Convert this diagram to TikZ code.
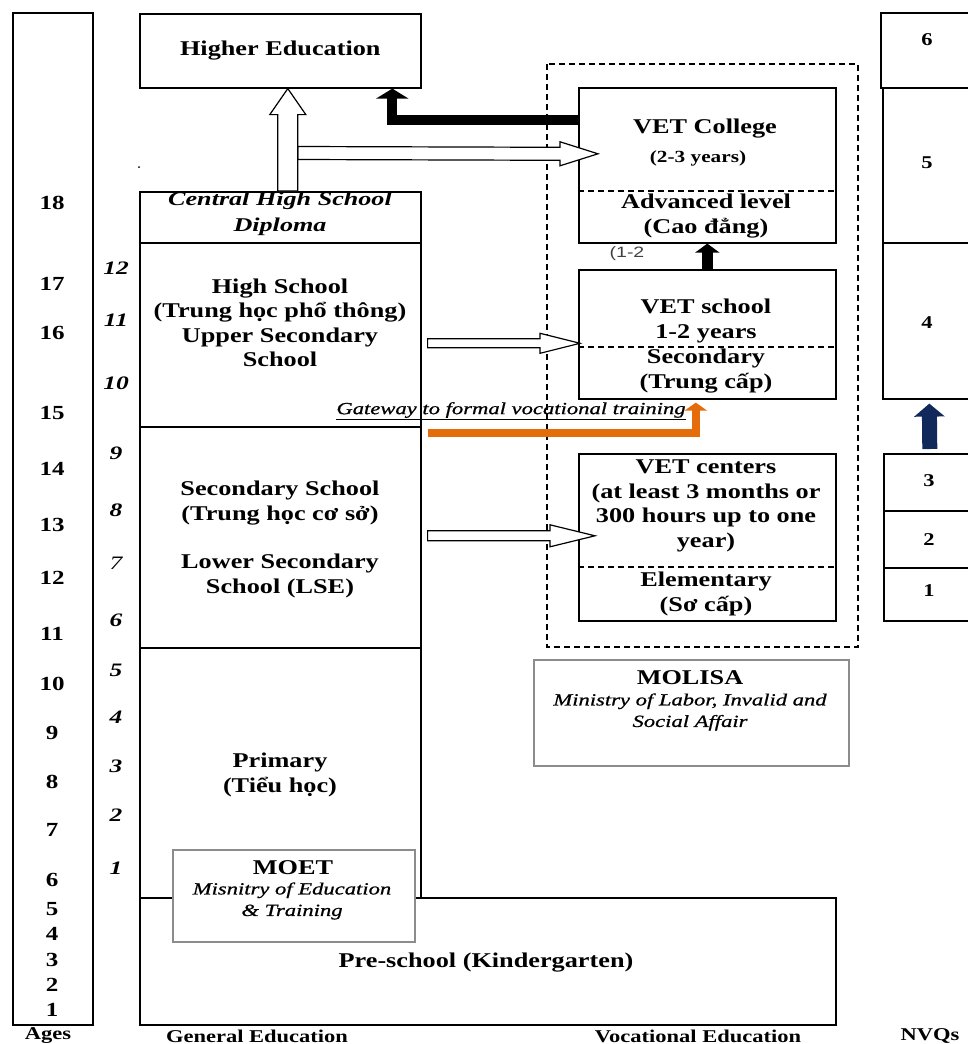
\documentclass[tikz,border=0pt]{standalone}
\usepackage{fontspec}
\setmainfont{Liberation Serif}[FakeStretch=1.25]
\newfontfamily\itserif{Liberation Serif}[FakeStretch=1.34]
\newfontfamily\itserifh{Liberation Serif}[FakeStretch=1.33, FakeBold=0.8]
\newfontfamily\sansnar{Liberation Sans}[FakeStretch=1.3]
\usetikzlibrary{arrows.meta,calc}
\definecolor{vetorange}{RGB}{228,108,10}
\definecolor{navyarrow}{RGB}{16,40,90}
\newcommand\fb{\fontsize{21}{24.5}\selectfont\bfseries}
\newcommand\fnum{\fontsize{20}{24}\selectfont\bfseries}
\newcommand\fnvq{\fontsize{18}{22}\selectfont\bfseries}
\newcommand\fgn{\itserif\fontsize{19}{23}\selectfont\bfseries\itshape}
\newcommand\fgnl{\itserif\fontsize{19}{23}\selectfont\itshape}
\newcommand\fitl{\itserifh\fontsize{17}{21.5}\selectfont\itshape}
\newcommand\fbi{\itserif\fontsize{19.5}{26}\selectfont\bfseries\itshape}
\newcommand\flab{\fontsize{18}{22}\selectfont\bfseries}
\newcommand\fsm{\fontsize{17}{20}\selectfont\bfseries}
\newcommand\fsans{\sansnar\fontsize{15}{18}\selectfont}
\newcommand\rbox[6][box]{\node[#1, minimum width={#5pt-#3pt}, minimum height={#6pt-#4pt}, anchor=north west] (#2) at (#3,#4) {};}
\newcommand\hollowR[5]{\draw[hollow] ($(#1)+(0,#3)$) -- ($(#2)+(-#5,#3)$) -- ($(#2)+(-#5,#4)$) -- (#2) -- ($(#2)+(-#5,-#4)$) -- ($(#2)+(-#5,-#3)$) -- ($(#1)+(0,-#3)$) -- cycle;}
\newcommand\hollowU[5]{\draw[hollow] ($(#1)+(-#3,0)$) -- ($(#2)+(-#3,#5)$) -- ($(#2)+(-#4,#5)$) -- (#2) -- ($(#2)+(#4,#5)$) -- ($(#2)+(#3,#5)$) -- ($(#1)+(#3,0)$) -- cycle;}
\tikzset{
  box/.style={draw, line width=1.6pt, inner sep=0pt},
  gbox/.style={draw=black!45, line width=1.5pt, fill=white, inner sep=0pt},
  dl/.style={line width=1.2pt, dash pattern=on 6pt off 4pt},
  hollow/.style={draw, line width=1.2pt, fill=white, line join=miter},
  txt/.style={inner sep=0pt, align=center, font=\fb},
  num/.style={inner sep=0pt, font=\fnum},
  gnum/.style={inner sep=0pt, font=\fgn},
  nvq/.style={inner sep=0pt, font=\fnvq},
  lab/.style={inner sep=0pt, font=\flab},
}
\begin{document}
\begin{tikzpicture}[x=1pt,y=-1pt]
\useasboundingbox (0,0) rectangle (968,1044);
\fill[white] (0,0) rectangle (968,1044);

% ages column
\rbox{ages}{12}{12}{92}{1024}
\foreach \n/\yy in {18/203,17/284,16/333,15/413,14/469,13/525,12/578,11/634,10/684,9/733,8/782,7/830,6/880,5/909,4/934,3/960,2/985,1/1010}
  \node[num] (age\n) at (52,\yy) {\n};
% grade numbers
\foreach \n/\yy in {12/268,11/320,10/383,9/453,8/510,6/620,5/670,4/717,3/766,2/815,1/868}
  \node[gnum] (gr\n) at (116,\yy) {\n};
\node[inner sep=0pt, font=\fgnl] (gr7) at (116,563) {7};

% general education boxes
\rbox{he}{139}{13}{420}{87}
\node[txt] (het) at (he.center) {Higher Education};
\rbox{dip}{139}{191}{420}{242}
\node[inner sep=0pt, align=center, font=\fbi] (dipt) at (280,214) {Central High School\\Diploma};
\rbox{hs}{139}{242}{420}{426}
\node[txt] (hst) at (280,323) {High School\\(Trung học phổ thông)\\Upper Secondary\\School};
\rbox{sec}{139}{426}{420}{647}
\node[txt] (sect1) at (280,503) {Secondary School\\(Trung học cơ sở)};
\node[txt] (sect2) at (280,576) {Lower Secondary\\School (LSE)};
\rbox{prim}{139}{647}{420}{897}
\node[txt] (primt) at (280,775) {Primary\\(Tiểu học)};
\rbox{pre}{139}{897}{835}{1024}
\node[txt] (pret) at (486,963) {Pre-school (Kindergarten)};
\rbox[gbox]{moet}{172}{849}{414}{941}
\node[inner sep=0pt, font=\fb] (moett) at (293,868) {MOET};
\node[inner sep=0pt, align=center, font=\fitl] (moeti) at (292,901) {Misnitry of Education\\\& Training};
\fill (139,167) circle (1pt);

% vocational boxes
\draw[dl] (547,64) rectangle (858,647);
\rbox{vc}{578}{87}{835}{242}
\draw[dl] (578,191) -- (835,191);
\node[txt] (vct1) at (705,129) {VET College};
\node[inner sep=0pt, font=\fsm] (vct2) at (698,158) {(2-3 years)};
\node[txt] (vct3) at (706,216) {Advanced level\\(Cao đẳng)};
\node[inner sep=0pt, font=\fsans, text=black!75] (ot) at (627,254) {(1-2};
\rbox{vs}{578}{269}{835}{398}
\draw[dl] (578,347) -- (835,347);
\node[txt] (vst1) at (706,321) {VET school\\1-2 years};
\node[txt] (vst2) at (706,371) {Secondary\\(Trung cấp)};
\rbox{vcen}{578}{453}{835}{620}
\draw[dl] (578,567) -- (835,567);
\node[txt] (vcent1) at (706,506) {VET centers\\(at least 3 months or\\300 hours up to one\\year)};
\node[txt] (vcent2) at (706,594) {Elementary\\(Sơ cấp)};
\rbox[gbox]{mol}{533}{659}{848}{765}
\node[inner sep=0pt, font=\fb] (molt) at (690,678) {MOLISA};
\node[inner sep=0pt, align=center, font=\fitl] (moli) at (690,712) {Ministry of Labor, Invalid and\\Social Affair};

% NVQ boxes
\rbox{n6}{880}{12}{975}{87}
\rbox{n5}{882}{87}{975}{242}
\rbox{n4}{882}{242}{975}{398}
\rbox{n3}{883}{453}{975}{510}
\rbox{n2}{883}{510}{975}{567}
\rbox{n1}{883}{567}{975}{620}
\node[nvq] (n6t) at (927,40) {6};
\node[nvq] (n5t) at (927,163) {5};
\node[nvq] (n4t) at (927,323) {4};
\node[nvq] (n3t) at (929,481) {3};
\node[nvq] (n2t) at (929,540) {2};
\node[nvq] (n1t) at (929,591) {1};

% bottom labels
\node[lab] (labA) at (48,1036) {Ages};
\node[lab] (labG) at (257,1036) {General Education};
\node[lab] (labV) at (698,1036) {Vocational Education};
\node[lab] (labN) at (930,1036) {NVQs};

% connectors
\coordinate (ub) at ($(dip.north)+(7.5,0)$);
\coordinate (ut) at ($(he.south)+(7.5,0)$);
\coordinate (t1s) at ($(ub)+(10,-38)$);
\coordinate (t1e) at ($(vc.west)+(20,-11.5)$);
\hollowR{t1s}{t1e}{6.5}{12}{38}
\hollowU{ub}{ut}{10}{18}{26}
\coordinate (m1s) at ($(hs.east)+(6,8.5)$);
\coordinate (m1e) at ($(vs.west)+(2,9)$);
\hollowR{m1s}{m1e}{4.5}{10}{40}
\coordinate (l1s) at ($(sec.east)+(6,-1.5)$);
\coordinate (l1e) at ($(vcen.west)+(17,-1.5)$);
\hollowR{l1s}{l1e}{5}{11}{45}

\draw[line width=10pt, -{Triangle[width=32pt,length=10pt]}] ($(vc.west)+(0,-45.5)$) -| ($(he.south)+(112,0)$);
\draw[line width=11pt, -{Triangle[width=24pt,length=9pt]}] (vs.north) -- (vc.south);

\node[inner sep=0pt, font=\fitl] (gw) at (511,411) {\underline{Gateway to formal vocational training}};
\coordinate (o1) at ($(hs.south east)+(6,5)$);
\draw[vetorange, line width=8pt, -{Triangle[width=22pt,length=8pt]}] (o1) -| ($(vs.south)+(-11.5,3)$);

\draw[navyarrow, line width=15pt, -{Triangle[width=30pt,length=13pt]}] ($(n3.north)+(0,-4)$) -- ($(n4.south)+(0,4)$);
\end{tikzpicture}
\end{document}
